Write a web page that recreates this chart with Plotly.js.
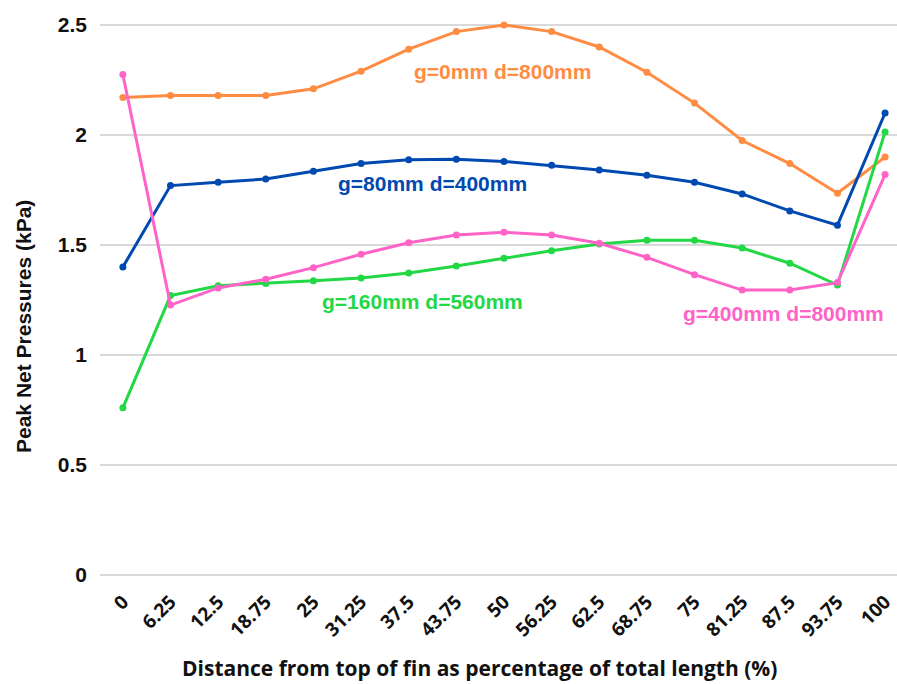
<!DOCTYPE html>
<html>
<head>
<meta charset="utf-8">
<script src="https://cdn.plot.ly/plotly-3.0.1.min.js"></script>
<style>html,body{margin:0;padding:0;background:#fff;}#chart{width:897px;height:684px;}</style>
</head>
<body>
<div id="chart"></div>
<script>
const categories = ["0","6.25","12.5","18.75","25","31.25","37.5","43.75","50","56.25","62.5","68.75","75","81.25","87.5","93.75","100"];
const g0d800 = [2.17,2.18,2.18,2.18,2.21,2.29,2.39,2.47,2.50,2.47,2.40,2.285,2.145,1.975,1.87,1.735,1.90];
const g80d400 = [1.40,1.77,1.785,1.80,1.835,1.87,1.888,1.89,1.88,1.862,1.841,1.817,1.785,1.732,1.655,1.59,2.10];
const g160d560 = [0.76,1.27,1.315,1.325,1.338,1.35,1.373,1.405,1.44,1.474,1.505,1.522,1.522,1.486,1.417,1.318,2.014];
const g400d800 = [2.275,1.227,1.305,1.344,1.397,1.458,1.51,1.545,1.558,1.545,1.508,1.444,1.365,1.295,1.295,1.329,1.82];
const seriesNames = ["g=0mm d=800mm","g=80mm d=400mm","g=160mm d=560mm","g=400mm d=800mm"];
const colors = ["#ff8c42","#0049b0","#22d844","#ff63c8"];
const yTicks = [0,0.5,1,1.5,2,2.5];
const yTickText = ["0","0.5","1","1.5","2","2.5"];
const xTitle = "Distance from top of fin as percentage of total length (%)";
const yTitle = "Peak Net Pressures (kPa)";

const allSeries = [g0d800,g80d400,g160d560,g400d800];
const traces = allSeries.map((s,i)=>({
  x: categories, y: s, type:'scatter', mode:'lines+markers', name: seriesNames[i],
  line:{color:colors[i], width:3}, marker:{color:colors[i], size:7}
}));

const L=100, R=0, T=14, B=98, W=897, H=684;
const px2x = p => (p - L)/(W-L-R);
const px2y = p => (H - B - p)/(H-T-B);

const labelPos = [[7.96,2.29],[6.49,1.78],[6.28,1.245],[13.86,1.19]];
const annotations = seriesNames.map((n,i)=>({
  x: labelPos[i][0], y: labelPos[i][1], xref:'x', yref:'y', text:n, showarrow:false,
  font:{family:'Liberation Sans, Arial, sans-serif', size:21, color:colors[i], weight:'bold'},
  xanchor:'center', yanchor:'middle'
}));
annotations.push({
  x: px2x(479), y: px2y(668), xref:'paper', yref:'paper', text:xTitle,
  showarrow:false, font:{family:'Open Sans, sans-serif', size:21, color:'#111', weight:'bold'},
  xanchor:'center', yanchor:'middle'
});
annotations.push({
  x: px2x(23), y: px2y(327), xref:'paper', yref:'paper', text:yTitle, textangle:-90,
  showarrow:false, font:{family:'Liberation Sans, Arial, sans-serif', size:21, color:'#111', weight:'bold'},
  xanchor:'center', yanchor:'middle'
});

const layout = {
  width:W, height:H,
  margin:{l:L, r:R, t:T, b:B},
  paper_bgcolor:'#fff', plot_bgcolor:'#fff',
  showlegend:false,
  xaxis:{
    type:'category', range:[-0.48,16.25],
    showgrid:false, zeroline:false, showline:false, ticks:'', ticklen:0,
    tickangle:-45,
    tickfont:{family:'Open Sans, sans-serif', size:19, color:'#111', weight:'bold'}
  },
  yaxis:{
    range:[-0.05,2.55], tickvals:yTicks, ticktext:yTickText,
    showgrid:true, gridcolor:'#d9d9d9', gridwidth:1.5, zeroline:false, showline:false, ticks:'', ticklen:0,
    ticklabelstandoff:12,
    tickfont:{family:'Liberation Sans, Arial, sans-serif', size:21, color:'#111', weight:'bold'}
  },
  annotations: annotations
};
Plotly.newPlot('chart', traces, layout, {displayModeBar:false, staticPlot:true});
</script>
</body>
</html>
